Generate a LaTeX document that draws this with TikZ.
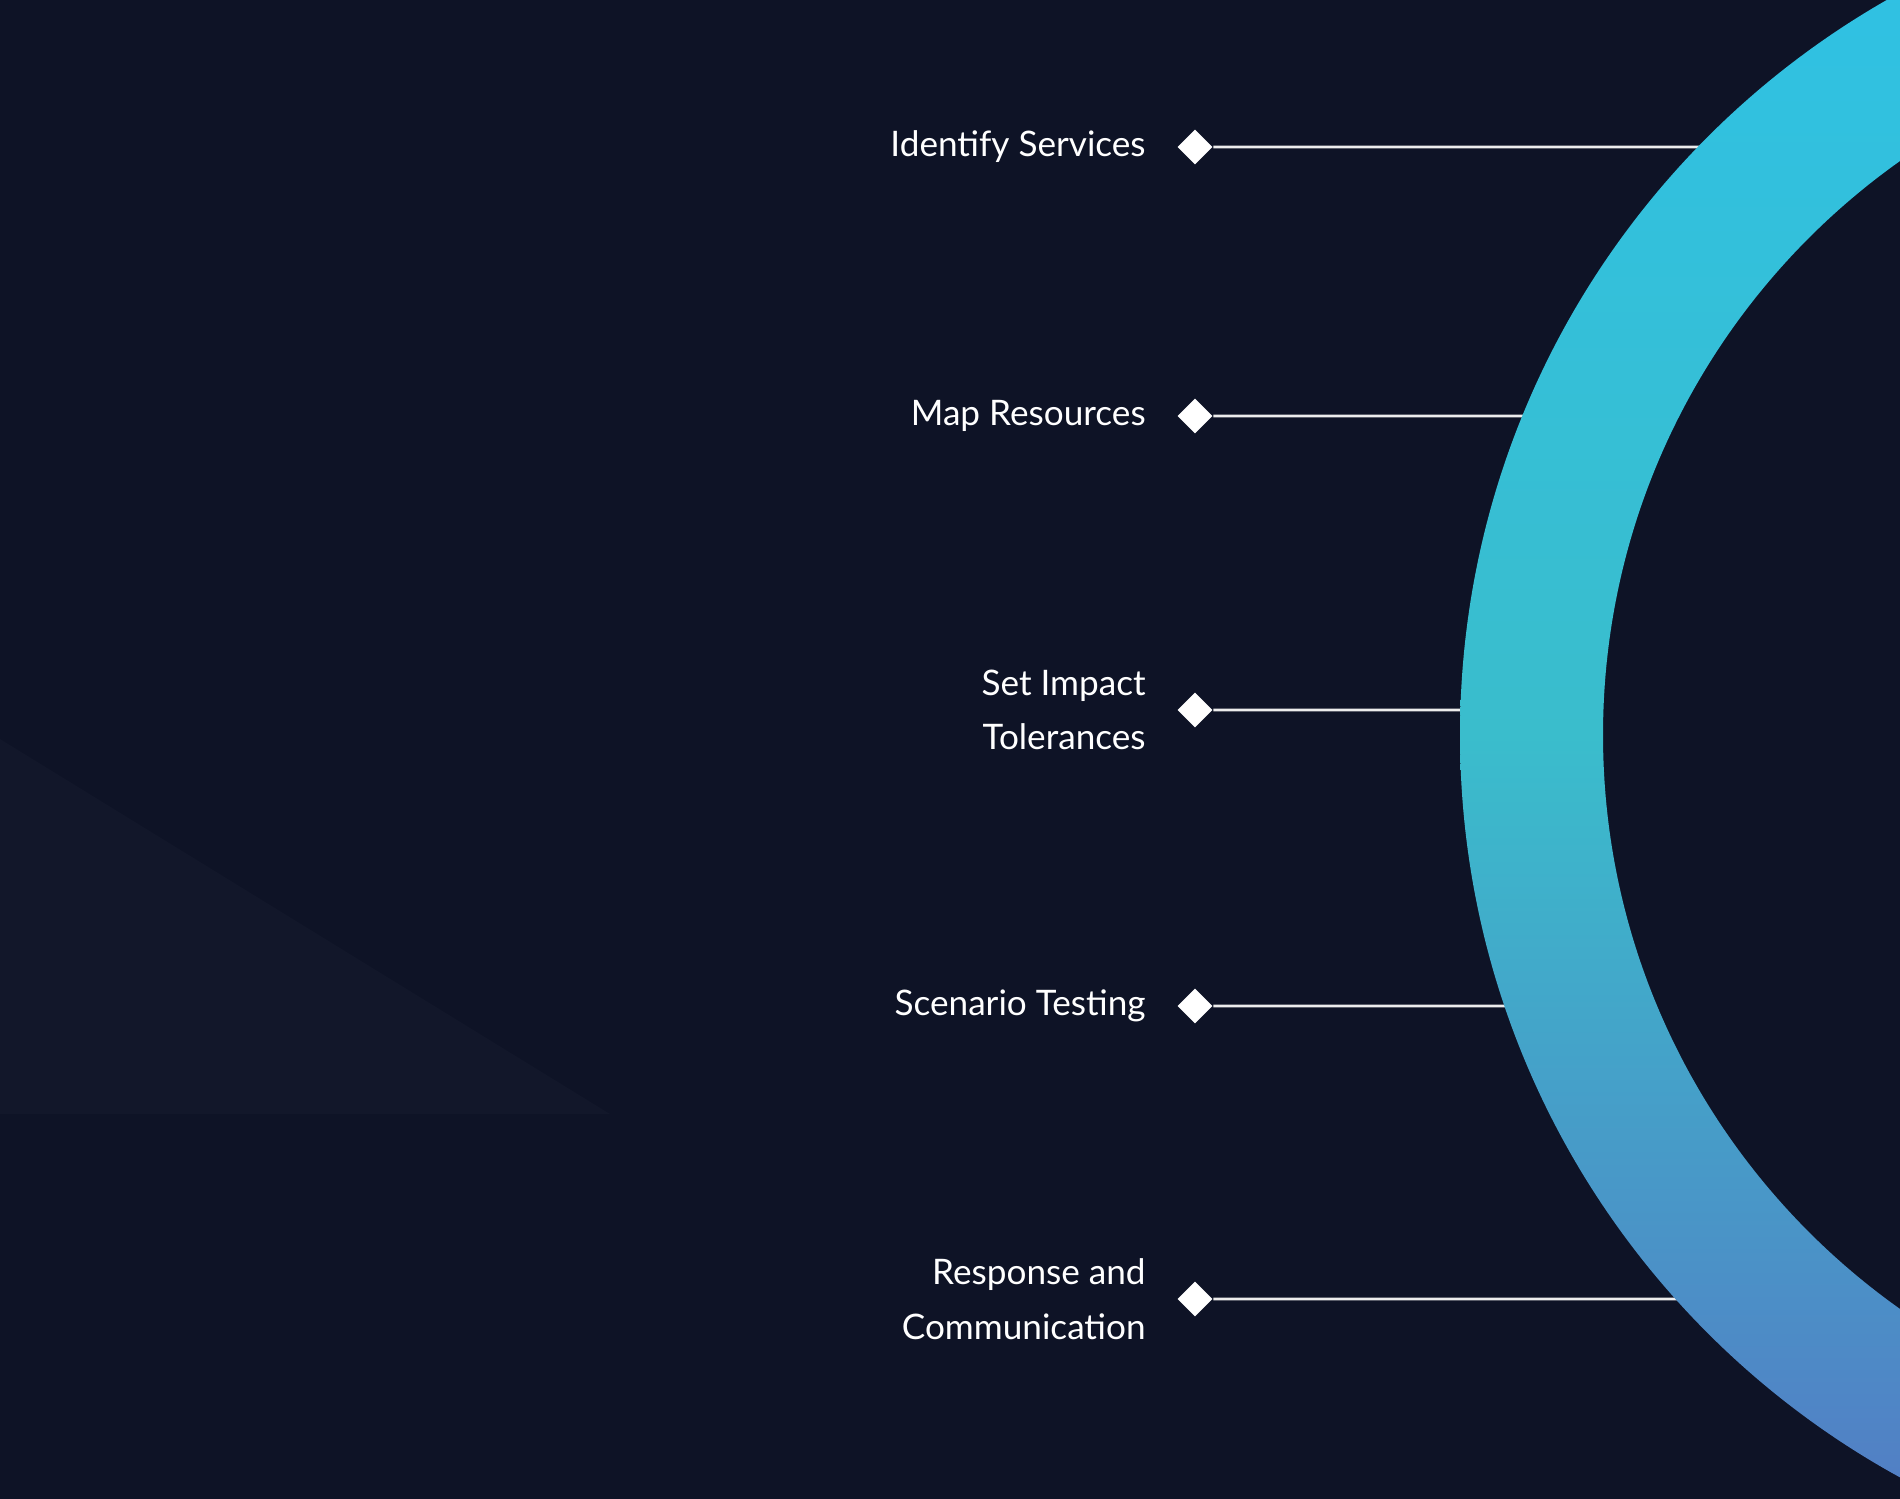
\documentclass[tikz,border=0pt]{standalone}
\usepackage{fontspec}
\setmainfont{Lato}
\usetikzlibrary{positioning}
\definecolor{bg}{HTML}{0E1326}
\definecolor{bgtint}{HTML}{12172A}
\definecolor{ringtop}{HTML}{2EC2E6}
\definecolor{ringmid}{HTML}{3ABDCC}
\definecolor{ringend}{HTML}{5577C4}
\tikzset{
  phase/.style={text=white, align=right, anchor=east, font=\fontsize{10}{15.5}\selectfont},
  dot/.style={fill=white, draw=none, minimum size=7pt, inner sep=0pt, rotate=45, shape=rectangle},
  link/.style={draw=white!85!gray, line width=0.8pt}
}
\begin{document}
\begin{tikzpicture}
\fill[bg] (0,0) rectangle (19,14.99);
\useasboundingbox (0,0) rectangle (19,14.99);
\fill[bgtint] (0,7.6) -- (6.1,3.85) -- (0,3.85) -- cycle;

% phases
\foreach \name/\y/\txt in {ids/13.52/Identify Services, map/10.83/Map Resources,
  imp/7.89/{Set Impact\\Tolerances}, sce/4.93/Scenario Testing,
  res/2.00/{Response and\\Communication}} {
  \pgfmathsetmacro{\xe}{23.06-sqrt(8.46*8.46-(\y-7.64)*(\y-7.64))+0.05}
  \node[dot] (\name d) at (11.95,\y) {};
  \node[phase] (\name) at (11.58,\y) {\txt};
  \coordinate (\name e) at (\xe,\y);
  \draw[link] (\name d) -- (\name e);
}

% ring
\begin{scope}
\clip (0,0) rectangle (19,14.99);
\shade[top color=ringtop, bottom color=ringend, middle color=ringmid, even odd rule]
  (23.06,7.64) circle (8.46) (23.06,7.64) circle (7.03);
\end{scope}
\end{tikzpicture}
\end{document}
